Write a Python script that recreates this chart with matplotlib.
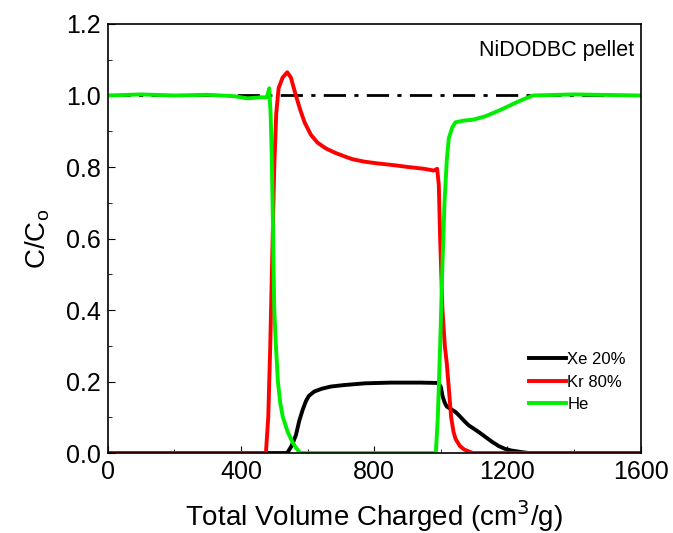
import matplotlib
matplotlib.use("Agg")
import matplotlib.pyplot as plt
from matplotlib.ticker import MultipleLocator

plt.rcParams['font.family'] = ['Liberation Sans', 'DejaVu Sans']

# Datos
xe_x = [0, 539, 552, 565, 575, 585, 595, 604, 620, 643, 670, 708, 772, 850, 940, 992, 1000, 1005, 1012, 1018,
        1030, 1044, 1057, 1070, 1083, 1096, 1115, 1134, 1153, 1173, 1192, 1212, 1240, 1264, 1600]
xe_y = [0.0, 0.0, 0.02, 0.05, 0.09, 0.12, 0.145, 0.16, 0.172, 0.18, 0.186, 0.19, 0.195, 0.197, 0.197, 0.196, 0.185,
        0.16, 0.14, 0.13, 0.123, 0.115, 0.103, 0.09, 0.078, 0.07, 0.058, 0.045, 0.032, 0.02, 0.012, 0.007, 0.003, 0.0, 0.0]

kr_x = [0, 475, 482, 488, 494, 500, 506, 513, 525, 539, 550, 565, 578, 591, 610, 630, 655, 682, 710, 734, 770,
        811, 860, 902, 950, 979, 989, 994, 998, 1005, 1012, 1018, 1025, 1031, 1038, 1044, 1057, 1070, 1096, 1600]
kr_y = [0.0, 0.0, 0.1, 0.3, 0.55, 0.8, 0.95, 1.02, 1.05, 1.065, 1.05, 1.0, 0.96, 0.925, 0.89, 0.868, 0.852, 0.84,
        0.83, 0.822, 0.815, 0.81, 0.805, 0.80, 0.795, 0.79, 0.795, 0.75, 0.6, 0.4, 0.3, 0.25, 0.17, 0.1, 0.06, 0.04,
        0.02, 0.01, 0.0, 0.0]

he_x = [0, 100, 200, 300, 380, 420, 460, 478, 485, 489, 492, 495, 500, 505, 511, 518, 526, 540, 555, 565, 578,
        985, 991, 998, 1004, 1011, 1018, 1024, 1034, 1044, 1070, 1095, 1115, 1134, 1180, 1225, 1250, 1277,
        1400, 1600]
he_y = [1.0, 1.003, 1.0, 1.002, 0.998, 0.992, 0.995, 0.995, 1.02, 0.95, 0.85, 0.7, 0.4, 0.3, 0.2, 0.14, 0.1, 0.06,
        0.03, 0.015, 0.0, 0.0, 0.1, 0.3, 0.5, 0.7, 0.82, 0.88, 0.91, 0.925, 0.93, 0.932, 0.937, 0.942, 0.96, 0.98,
        0.99, 1.0, 1.003, 1.0]

fig = plt.figure(figsize=(6.73, 5.33), dpi=100)
ax = fig.add_axes([0.160, 0.150, 0.792, 0.805])

ax.plot([0, 1600], [1.0, 1.0], color='black', lw=2, ls=(0, (8, 3, 1.5, 3)))
ax.plot(xe_x, xe_y, color='black', lw=2.8, label='Xe 20%')
ax.plot(kr_x, kr_y, color='#ff0000', lw=2.8, label='Kr 80%')
ax.plot(he_x, he_y, color='#00ee00', lw=2.8, label='He')

ax.set_xlim(0, 1600)
ax.set_ylim(0, 1.2)
ax.xaxis.set_major_locator(MultipleLocator(400))
ax.xaxis.set_minor_locator(MultipleLocator(200))
ax.yaxis.set_minor_locator(MultipleLocator(0.1))
ax.set_yticks([0, 0.2, 0.4, 0.6, 0.8, 1.0, 1.2])
ax.set_yticklabels(['0.0', '0.2', '0.4', '0.6', '0.8', '1.0', '1.2'])
ax.tick_params(which='both', direction='in', labelsize=18)
ax.tick_params(which='major', length=5, pad=5)
ax.tick_params(which='minor', length=3)
for s in ax.spines.values():
    s.set_linewidth(1.2)

ax.set_xlabel('Total Volume Charged (cm$^3$/g)', fontsize=20, labelpad=10)
ax.set_ylabel('C/C$_\\mathregular{o}$', fontsize=20, labelpad=10)
ax.text(1580, 1.125, 'NiDODBC pellet', ha='right', va='center', fontsize=15.5)

ax.legend(loc='lower right', bbox_to_anchor=(1.0, 0.06), frameon=False, fontsize=12,
          handlelength=2.2, handletextpad=0.1, labelspacing=0.45)

plt.savefig('out.png')
